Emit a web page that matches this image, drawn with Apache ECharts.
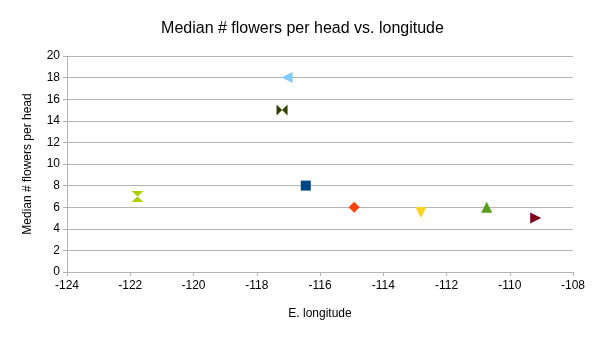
<!DOCTYPE html>
<html>
<head>
<meta charset="utf-8">
<script src="https://cdn.jsdelivr.net/npm/echarts@6/dist/echarts.min.js"></script>
<style>html,body{margin:0;padding:0;background:#fff}#c{width:605px;height:340px}</style>
</head>
<body>
<div id="c"></div>
<script>
var longitudes = [-121.77, -117.04, -117.2, -116.45, -114.92, -112.81, -110.73, -109.18];
var medians = [7, 18, 15, 8, 6, 5.5, 6, 5];
var xTicks = [-124, -122, -120, -118, -116, -114, -112, -110, -108];
var yTicks = [0, 2, 4, 6, 8, 10, 12, 14, 16, 18, 20];

var colors = ['#aecf00', '#83caff', '#314004', '#004586', '#ff420e', '#ffd320', '#579d1c', '#7e0021'];
var symbols = [
  'path://M0,0L10,0L0,10L10,10Z',
  'path://M0,5L10,0L10,10Z',
  'path://M0,0L10,10L10,0L0,10Z',
  'rect',
  'diamond',
  'path://M0,0L10,0L5,10Z',
  'triangle',
  'path://M10,5L0,0L0,10Z'
];
var sizes = [[12,11],[11,11],[11,11],[10,10],[11,11],[11,11],[11,11],[11,11]];

var series = longitudes.map(function (x, i) {
  return {
    type: 'scatter',
    data: [[x, medians[i]]],
    symbol: symbols[i],
    symbolSize: sizes[i],
    itemStyle: { color: colors[i], opacity: 1 },
    emphasis: { disabled: true }
  };
});

var chart = echarts.init(document.getElementById('c'), null, { renderer: 'canvas' });
chart.setOption({
  animation: false,
  backgroundColor: '#fff',
  title: {
    text: 'Median # flowers per head vs. longitude',
    left: 'center',
    top: 16,
    textStyle: { fontFamily: 'Liberation Sans', fontSize: 16, fontWeight: 'normal', color: '#000' }
  },
  grid: { left: 67, right: 32, top: 56, bottom: 68 },
  xAxis: {
    type: 'value',
    min: xTicks[0], max: xTicks[xTicks.length - 1], interval: 2,
    name: 'E. longitude',
    nameLocation: 'middle',
    nameGap: 36,
    nameTextStyle: { fontFamily: 'Liberation Sans', fontSize: 12, color: '#000' },
    axisLine: { show: true, lineStyle: { color: '#b3b3b3' } },
    axisTick: { show: true, length: 4, lineStyle: { color: '#b3b3b3' } },
    axisLabel: { fontFamily: 'Liberation Sans', fontSize: 12, color: '#000', margin: 8 },
    splitLine: { show: false }
  },
  yAxis: {
    type: 'value',
    min: yTicks[0], max: yTicks[yTicks.length - 1], interval: 2,
    name: 'Median # flowers per head',
    nameLocation: 'middle',
    nameGap: 33,
    nameRotate: 90,
    nameTextStyle: { fontFamily: 'Liberation Sans', fontSize: 12, color: '#000' },
    axisLine: { show: true, lineStyle: { color: '#b3b3b3' } },
    axisTick: { show: true, length: 4, lineStyle: { color: '#b3b3b3' } },
    axisLabel: { fontFamily: 'Liberation Sans', fontSize: 12, color: '#000', margin: 7 },
    splitLine: { show: true, lineStyle: { color: '#b3b3b3' } }
  },
  series: series
});
</script>
</body>
</html>
